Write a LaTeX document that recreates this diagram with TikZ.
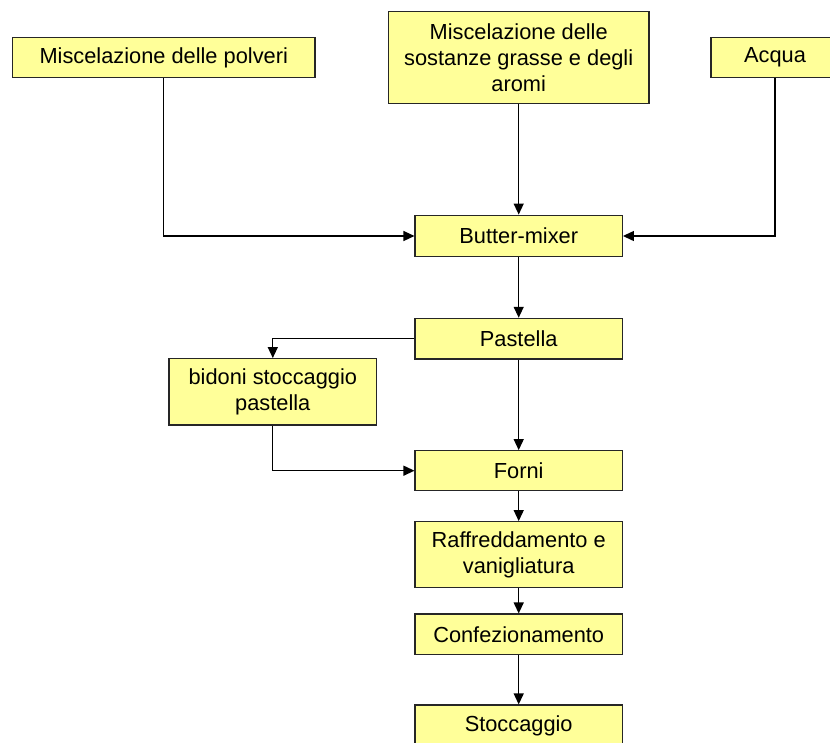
\documentclass[tikz,border=0pt]{standalone}
\usepackage{fontspec}
\setmainfont{Liberation Sans}
\usetikzlibrary{arrows.meta}
\definecolor{boxfill}{HTML}{FFFF99}
\begin{document}
\begin{tikzpicture}[x=1pt,y=-1pt,
  stepbox/.style={draw=black!85,line width=1.2pt,fill=boxfill,inner sep=0pt,align=center,
    font=\fontsize{21.8}{25.8}\selectfont},
  conn/.style={line width=1.3pt,-{Triangle[length=11pt,width=10pt]}}]
\useasboundingbox[fill=white] (0,0) rectangle (830,742);
\node[stepbox,minimum width=302.5pt,minimum height=40.7pt] (pol) at (163.75,57.5) {Miscelazione delle polveri};
\node[stepbox,minimum width=260.7pt,minimum height=92pt] (gra) at (518.7,57.7) {Miscelazione delle\\sostanze grasse e degli\\aromi};
\node[stepbox,minimum width=128pt,minimum height=40.7pt] (acq) at (775,57.5) {Acqua};
\node[stepbox,minimum width=207.3pt,minimum height=41.7pt] (but) at (518.7,236) {Butter-mixer};
\node[stepbox,minimum width=207.3pt,minimum height=40.7pt] (pas) at (518.7,338.7) {Pastella};
\node[stepbox,minimum width=207.7pt,minimum height=66.3pt] (bid) at (272.8,391.8) {bidoni stoccaggio\\pastella};
\node[stepbox,minimum width=207.3pt,minimum height=40pt] (for) at (518.7,470.7) {Forni};
\node[stepbox,minimum width=207.3pt,minimum height=66pt] (raf) at (518.7,554.7) {Raffreddamento e\\vanigliatura};
\node[stepbox,minimum width=207.3pt,minimum height=40.3pt] (con) at (518.7,634.2) {Confezionamento};
\node[stepbox,minimum width=207.3pt,minimum height=41pt] (sto) at (518.7,725.5) {Stoccaggio};
\draw[conn] (pol.south) |- (but.west);
\draw[conn] (gra.south) -- (but.north);
\draw[conn] (acq.south) |- (but.east);
\draw[conn] (but.south) -- (pas.north);
\draw[conn] (pas.west) -| (bid.north);
\draw[conn] (pas.south) -- (for.north);
\draw[conn] (bid.south) |- (for.west);
\draw[conn] (for.south) -- (raf.north);
\draw[conn] (raf.south) -- (con.north);
\draw[conn] (con.south) -- (sto.north);
\end{tikzpicture}
\end{document}
